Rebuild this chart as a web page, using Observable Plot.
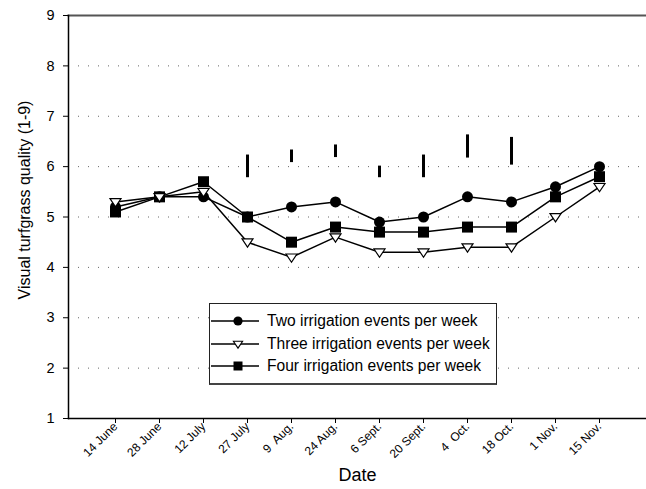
<!DOCTYPE html>
<html><head><meta charset="utf-8">
<script src="https://cdn.jsdelivr.net/npm/d3@7"></script>
<script src="https://cdn.jsdelivr.net/npm/@observablehq/plot@0.6"></script>
<style>
body{margin:0;background:#fff;font-family:"Liberation Sans",Arial,sans-serif;}
#chart{position:relative;width:646px;height:489px;overflow:hidden;}
#chart svg text{white-space:pre;}
#legend{position:absolute;left:209px;top:303px;width:288px;height:82px;border:1px solid #222;border-bottom:2px solid #444;background:#fff;box-sizing:border-box;}
.row{position:absolute;left:0;height:22px;display:flex;align-items:center;font-size:15.6px;color:#000;white-space:nowrap;}
.row svg{display:block;}
.row span{margin-left:7px;}
</style></head><body><div id="chart"></div>
<script>
const dates = ["14 June","28 June","12 July","27 July","9  Aug.","24 Aug.","6 Sept.","20 Sept.","4  Oct.","18 Oct.","1 Nov.","15 Nov."];
const twoEvents   = [5.2,5.4,5.4,5.0,5.2,5.3,4.9,5.0,5.4,5.3,5.6,6.0];
const threeEvents = [5.3,5.4,5.5,4.5,4.2,4.6,4.3,4.3,4.4,4.4,5.0,5.6];
const fourEvents  = [5.1,5.4,5.7,5.0,4.5,4.8,4.7,4.7,4.8,4.8,5.4,5.8];
const lsdDates = ["27 July","9  Aug.","24 Aug.","6 Sept.","20 Sept.","4  Oct.","18 Oct."];
const lsdLow  = [5.78,6.08,6.18,5.78,5.78,6.17,6.03];
const lsdHigh = [6.23,6.33,6.43,6.01,6.23,6.63,6.58];
const seriesNames = ["Two irrigation events per week","Three irrigation events per week","Four irrigation events per week"];
const yTicks = [1,2,3,4,5,6,7,8,9];
const gridTicks = [2,3,4,5,6,7,8];
const yLabel = "Visual turfgrass quality (1-9)";
const xLabel = "Date";

const seriesValues = [twoEvents, threeEvents, fourEvents];
const rows = [];
seriesValues.forEach((vals, s) => vals.forEach((v, i) => rows.push({date: dates[i], v, s})));
const lsd = lsdDates.map((d, i) => ({date: d, lo: lsdLow[i], hi: lsdHigh[i]}));

const triDown = {draw(ctx, size){ const r = Math.sqrt(size/Math.PI); ctx.moveTo(-r,-0.6*r); ctx.lineTo(r,-0.6*r); ctx.lineTo(0,0.9*r); ctx.closePath(); }};

const chart = Plot.plot({
  width: 646, height: 489,
  marginTop: 15, marginBottom: 71, marginLeft: 68, marginRight: 0,
  style: {fontFamily: '"Liberation Sans", Arial, sans-serif', background: "#fff", color: "#000"},
  x: {type: "point", domain: dates, padding: 1},
  y: {domain: [1, 9]},
  marks: [
    Plot.gridY(gridTicks, {stroke: "#666", strokeOpacity: 1, strokeDasharray: "1,9"}),
    Plot.frame({anchor: "top", stroke: "#555", strokeWidth: 2}),
    Plot.frame({anchor: "left", stroke: "#000", strokeWidth: 1.5}),
    Plot.frame({anchor: "bottom", stroke: "#000", strokeWidth: 1.5}),
    Plot.axisY(yTicks, {tickSize: 5, tickPadding: 9, fontSize: 14.5, label: null, tickFormat: d3.format("d")}),
    Plot.axisX({tickSize: 5, tickPadding: 1, tickRotate: -45, fontSize: 12, label: null}),
    Plot.text([yLabel], {frameAnchor: "left", textAnchor: "middle", rotate: -90, dx: -43.5, dy: -17, fontSize: 16, text: d => d}),
    Plot.text([xLabel], {frameAnchor: "bottom", dy: 62.7, fontSize: 18, text: d => d}),
    Plot.ruleX(lsd, {x: "date", y1: "lo", y2: "hi", stroke: "#000", strokeWidth: 3}),
    Plot.line(rows, {x: "date", y: "v", z: "s", stroke: "#000", strokeWidth: 1.5}),
    Plot.dot(rows.filter(d => d.s === 0), {x: "date", y: "v", r: 5.5, fill: "#000", stroke: "none", symbol: "circle"}),
    Plot.dot(rows.filter(d => d.s === 2), {x: "date", y: "v", r: 6.2, fill: "#000", stroke: "none", symbol: "square"}),
    Plot.dot(rows.filter(d => d.s === 1), {x: "date", y: "v", r: 5.5, fill: "#fff", stroke: "#000", strokeWidth: 1.2, symbol: triDown})
  ]
});
const host = document.getElementById("chart");
host.appendChild(chart);

// legend
const legend = document.createElement("div");
legend.id = "legend";
const rowTops = [6, 28.5, 51];
seriesNames.forEach((name, s) => {
  const row = document.createElement("div");
  row.className = "row";
  row.style.top = rowTops[s] + "px";
  const svg = d3.create("svg").attr("width", 50).attr("height", 22);
  svg.append("line").attr("x1", 1).attr("x2", 49).attr("y1", 11).attr("y2", 11).attr("stroke", "#000").attr("stroke-width", 1.5);
  const sym = [d3.symbolCircle, triDown, d3.symbolSquare][s];
  svg.append("path").attr("transform", "translate(28,11)")
    .attr("d", d3.symbol(sym, s === 2 ? 81 : Math.PI*4.6*4.6)())
    .attr("fill", s === 1 ? "#fff" : "#000").attr("stroke", s === 1 ? "#000" : "none").attr("stroke-width", 1.1);
  row.appendChild(svg.node());
  const span = document.createElement("span");
  span.textContent = name;
  row.appendChild(span);
  legend.appendChild(row);
});
host.appendChild(legend);
</script>
</body></html>
